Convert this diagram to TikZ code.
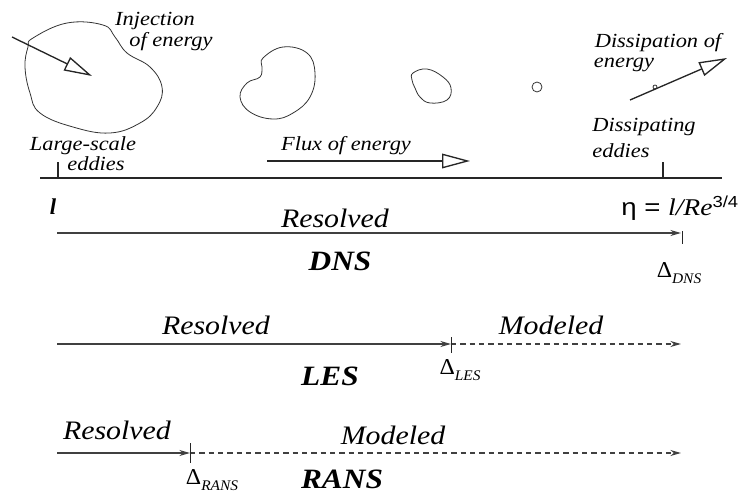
\documentclass[tikz,border=0pt]{standalone}
\usepackage{fontspec}
\setmainfont{Liberation Serif}
\newfontfamily\sansf{Liberation Sans}
\usetikzlibrary{arrows.meta}
\begin{document}
\begin{tikzpicture}[x=0.75pt,y=-0.75pt,
  lbl/.style={inner sep=0pt, font=\fontsize{15}{18}\selectfont\itshape, xscale=1.12},
  big/.style={inner sep=0pt, font=\fontsize{20}{24}\selectfont\itshape, xscale=1.12},
  meth/.style={inner sep=0pt, font=\fontsize{21}{25}\selectfont\bfseries\itshape, xscale=1.12},
  dlt/.style={inner sep=0pt, font=\fontsize{17}{20}\selectfont, xscale=1.05},
  eddy/.style={draw=black!80, line width=0.6pt},
  openarrow/.style={draw=black!85, line width=1pt, -{Triangle[open, length=21pt, width=11pt]}},
  mainline/.style={draw=black!85, line width=1.5pt},
  tick/.style={draw=black!85, line width=1pt},
  res/.style={draw=black!75, line width=0.9pt, -{Stealth[length=8pt, width=4.5pt]}},
  mod/.style={draw=black!75, line width=0.9pt, dash pattern=on 4pt off 3pt, -{Stealth[length=8pt, width=4.5pt]}}
]
\useasboundingbox (0,0) rectangle (750,496);

% eddies
\draw[eddy] plot[smooth cycle, tension=0.7] coordinates {(33,38) (67,23) (103,25) (115,37) (127,53) (150,67) (162,87) (157,107) (140,123) (110,133) (73,127) (40,113) (30,93) (25,67) (28,47)};
\draw[eddy] plot[smooth cycle, tension=0.7] coordinates {(263,58) (283,47) (307,53) (315,73) (310,97) (293,113) (273,119) (250,112) (240,97) (247,83) (260,77) (262,67)};
\draw[eddy] plot[smooth cycle, tension=0.7] coordinates {(413,73) (427,69) (443,77) (451,88) (447,100) (430,103) (420,97) (415,88) (412,80)};
\draw[eddy] (537,87) circle[radius=5];
\draw[eddy] (655,87) circle[radius=2];

% energy arrows
\coordinate (injS) at (12,37);
\coordinate (injE) at (92,76);
\coordinate (fluxS) at (267,161);
\coordinate (fluxE) at (470,161);
\coordinate (disS) at (630,100);
\coordinate (disE) at (727,58);
\draw[openarrow] (injS) -- (injE);
\draw[openarrow] (fluxS) -- (fluxE);
\draw[openarrow] (disS) -- (disE);

% main scale line
\coordinate (mL) at (40,178);
\coordinate (mR) at (722,178);
\coordinate (t1a) at (58,162);
\coordinate (t1b) at (58,178);
\coordinate (t2a) at (663,162);
\coordinate (t2b) at (663,178);
\draw[mainline] (mL) -- (mR);
\draw[tick] (t1a) -- (t1b);
\draw[tick] (t2a) -- (t2b);

% labels top
\node[lbl] (inj1) at (155,21) {Injection};
\node[lbl] (inj2) at (171,42) {of energy};
\node[lbl] (lse1) at (83,146) {Large-scale};
\node[lbl] (lse2) at (96,164) {eddies};
\node[lbl] (flux) at (346,146) {Flux of energy};
\node[lbl] (dis1) at (658,43) {Dissipation of};
\node[lbl] (dis2) at (624,65) {energy};
\node[lbl] (de1) at (644,127) {Dissipating};
\node[lbl] (de2) at (621,151) {eddies};

\node[inner sep=0pt, font=\fontsize{17}{20}\selectfont\bfseries\itshape] (ell) at (53,207) {l};
\node[inner sep=0pt, anchor=base west, font=\fontsize{18}{21}\selectfont, xscale=1.15] (eta) at (621,215)
  {{\sansf η = }{\itshape l/Re}\raisebox{6pt}{\sansf\fontsize{12}{14}\selectfont 3/4}};

% DNS
\coordinate (dnsS) at (57,233);
\coordinate (dnsE) at (681,233);
\coordinate (dnsT1) at (682,231);
\coordinate (dnsT2) at (682,244);
\draw[res] (dnsS) -- (dnsE);
\draw[tick, line width=0.7pt] (dnsT1) -- (dnsT2);
\node[big] (resD) at (335,218) {Resolved};
\node[meth] (dns) at (340,261) {DNS};
\node[dlt] (dD) at (679,273) {Δ\raisebox{-4pt}{\fontsize{11}{13}\selectfont\itshape DNS}};

% LES
\coordinate (lesS) at (57,344);
\coordinate (lesM) at (451,344);
\coordinate (lesE) at (681,344);
\coordinate (lesT1) at (451,337);
\coordinate (lesT2) at (451,353);
\draw[res] (lesS) -- (lesM);
\draw[mod] (lesM) -- (lesE);
\draw[tick, line width=0.7pt] (lesT1) -- (lesT2);
\node[big] (resL) at (216,325) {Resolved};
\node[big] (modL) at (551,325) {Modeled};
\node[meth] (les) at (330,376) {LES};
\node[dlt] (dL) at (460,370) {Δ\raisebox{-4pt}{\fontsize{11}{13}\selectfont\itshape LES}};

% RANS
\coordinate (ransS) at (57,453);
\coordinate (ransM) at (190,453);
\coordinate (ransE) at (681,453);
\coordinate (ransT1) at (190,443);
\coordinate (ransT2) at (190,463);
\draw[res] (ransS) -- (ransM);
\draw[mod] (ransM) -- (ransE);
\draw[tick, line width=0.7pt] (ransT1) -- (ransT2);
\node[big] (resR) at (117,430) {Resolved};
\node[big] (modR) at (393,435) {Modeled};
\node[meth] (rans) at (342,479) {RANS};
\node[dlt] (dR) at (212,480) {Δ\raisebox{-4pt}{\fontsize{11}{13}\selectfont\itshape RANS}};
\end{tikzpicture}
\end{document}
